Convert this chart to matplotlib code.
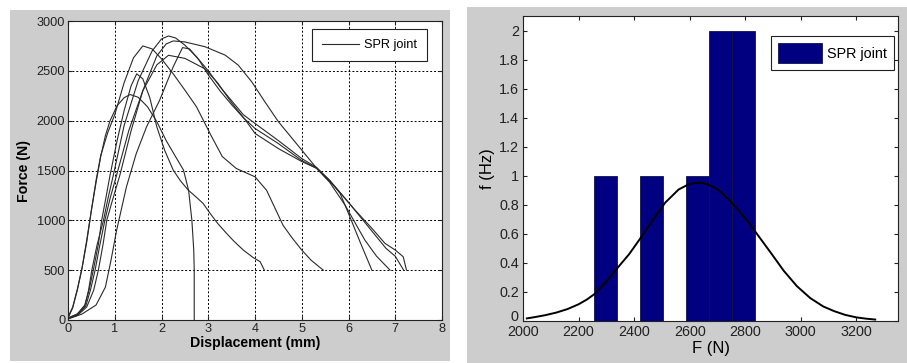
import matplotlib
matplotlib.use("Agg")
import matplotlib.pyplot as plt
from matplotlib.patches import Rectangle
from matplotlib.ticker import FuncFormatter
from matplotlib.transforms import ScaledTranslation

plt.rcParams['font.family'] = ['Liberation Sans', 'DejaVu Sans']

# ---------------- data: force-displacement curves (mm, N) ----------------
curve_a_x = [0, 0.1, 0.2, 0.3, 0.4, 0.5, 0.6, 0.7, 0.8, 0.9, 1.05, 1.2, 1.33, 1.5, 1.7, 1.9, 2.1, 2.3, 2.47, 2.58, 2.65, 2.69, 2.70, 2.70]
curve_a_y = [20, 120, 300, 520, 780, 1100, 1380, 1640, 1850, 2000, 2150, 2230, 2262, 2235, 2140, 1990, 1800, 1640, 1505, 1300, 1000, 700, 500, 0]

curve_b_x = [0, 0.2, 0.36, 0.45, 0.55, 0.65, 0.72, 0.82, 0.9, 1.05, 1.2, 1.35, 1.47, 1.6, 1.75, 1.9, 2.07, 2.25, 2.4, 2.57, 2.75, 2.89, 3.04, 3.2, 3.39, 3.55, 3.75, 3.95, 4.11, 4.2]
curve_b_y = [20, 60, 150, 300, 520, 760, 1000, 1250, 1454, 1800, 2100, 2350, 2470, 2420, 2230, 1938, 1700, 1505, 1400, 1304, 1230, 1170, 1070, 970, 870, 790, 702, 630, 585, 500]

curve_c_x = [0, 0.1, 0.2, 0.3, 0.4, 0.5, 0.6, 0.7, 0.85, 1.0, 1.2, 1.4, 1.6, 1.8, 2.0, 2.25, 2.5, 2.75, 3.05, 3.3, 3.6, 4.0, 4.25, 4.45, 4.6, 4.8, 5.0, 5.2, 5.46]
curve_c_y = [30, 130, 310, 520, 800, 1100, 1400, 1650, 1880, 2060, 2380, 2630, 2750, 2720, 2620, 2470, 2307, 2138, 1860, 1640, 1520, 1437, 1300, 1100, 950, 820, 702, 600, 500]

curve_d_x = [0, 0.2, 0.38, 0.48, 0.58, 0.68, 0.79, 0.9, 1.04, 1.3, 1.6, 1.9, 2.15, 2.5, 2.93, 3.2, 3.5, 3.79, 4.0, 4.5, 5.0, 5.32, 5.6, 5.82, 6.0, 6.25, 6.5]
curve_d_y = [15, 50, 140, 300, 501, 750, 1003, 1220, 1454, 1900, 2300, 2560, 2656, 2625, 2520, 2380, 2180, 2010, 1872, 1720, 1590, 1522, 1400, 1270, 1069, 780, 500]

curve_e_x = [0, 0.2, 0.36, 0.44, 0.51, 0.62, 0.76, 0.86, 0.97, 1.2, 1.5, 1.8, 2.0, 2.15, 2.3, 2.5, 2.75, 3.0, 3.25, 3.5, 3.75, 4.0, 4.5, 5.0, 5.32, 5.6, 6.0, 6.4, 6.8, 7.0, 7.18]
curve_e_y = [20, 60, 140, 300, 501, 750, 1003, 1230, 1454, 1950, 2400, 2700, 2820, 2850, 2830, 2758, 2640, 2500, 2340, 2200, 2060, 1972, 1800, 1620, 1530, 1400, 1180, 950, 720, 640, 500]

curve_f_x = [0, 0.2, 0.4, 0.55, 0.65, 0.75, 0.83, 0.95, 1.11, 1.35, 1.6, 1.9, 2.1, 2.25, 2.5, 2.93, 3.36, 3.64, 3.93, 4.21, 4.5, 5.0, 5.35, 5.71, 6.14, 6.5, 6.78, 7.0, 7.17, 7.24]
curve_f_y = [15, 45, 130, 300, 501, 760, 1003, 1200, 1454, 1900, 2300, 2650, 2770, 2800, 2790, 2742, 2658, 2558, 2390, 2190, 1990, 1705, 1505, 1337, 1103, 920, 769, 702, 635, 501]

curve_g_x = [0, 0.3, 0.6, 0.8, 0.92, 1.04, 1.25, 1.46, 1.68, 1.96, 2.25, 2.45, 2.6, 2.8, 3.0, 3.25, 3.5, 3.75, 4.0, 4.5, 5.0, 5.32, 5.6, 5.93, 6.35, 6.6, 6.89]
curve_g_y = [10, 60, 150, 330, 600, 900, 1336, 1670, 1938, 2205, 2540, 2733, 2720, 2610, 2460, 2300, 2160, 2030, 1922, 1770, 1600, 1522, 1380, 1150, 802, 640, 500]

curves = [(curve_a_x, curve_a_y), (curve_b_x, curve_b_y), (curve_c_x, curve_c_y),
          (curve_d_x, curve_d_y), (curve_e_x, curve_e_y), (curve_f_x, curve_f_y),
          (curve_g_x, curve_g_y)]

# ---------------- data: histogram of peak forces ----------------
bin_centers = [2298, 2381, 2464, 2546, 2629, 2712, 2794]
bin_counts = [1, 0, 1, 0, 1, 2, 2]
bin_width = 82.6

fit_x = [2014, 2040, 2080, 2120, 2160, 2200, 2230, 2257, 2299, 2340, 2382, 2421, 2465, 2512,
         2560, 2590, 2615, 2640, 2666, 2690, 2714, 2761, 2808, 2844, 2892, 2939, 2986, 3034,
         3081, 3120, 3160, 3200, 3235, 3268]
fit_y = [0.018, 0.026, 0.040, 0.058, 0.082, 0.115, 0.148, 0.185, 0.270, 0.365, 0.460, 0.565,
         0.690, 0.815, 0.905, 0.935, 0.950, 0.952, 0.940, 0.918, 0.885, 0.795, 0.690, 0.595,
         0.470, 0.345, 0.240, 0.158, 0.100, 0.068, 0.042, 0.025, 0.016, 0.010]

xticks_left = [0, 1, 2, 3, 4, 5, 6, 7, 8]
yticks_left = [0, 500, 1000, 1500, 2000, 2500, 3000]
xticks_right = [2000, 2200, 2400, 2600, 2800, 3000, 3200]
yticks_right = [0, 0.2, 0.4, 0.6, 0.8, 1.0, 1.2, 1.4, 1.6, 1.8, 2.0]

# ---------------- figure ----------------
W, H = 907, 363
fig = plt.figure(figsize=(W / 100, H / 100), dpi=100)
fig.patch.set_facecolor('white')

gray = '#cdcdcd'
fig.patches.append(Rectangle((10 / W, 1 - 361 / H), 440 / W, 351 / H,
                             transform=fig.transFigure, facecolor=gray,
                             edgecolor='none', zorder=-10))
fig.patches.append(Rectangle((467 / W, 0), 440 / W, 1 - 7 / H,
                             transform=fig.transFigure, facecolor=gray,
                             edgecolor='none', zorder=-10))

# ---------- left panel ----------
ax1 = fig.add_axes([68 / W, 1 - 320 / H, 374 / W, 299 / H])
ax1.set_facecolor('white')
for i, (cx, cy) in enumerate(curves):
    ax1.plot(cx, cy, color='#2a2a2a', lw=0.8,
             label='SPR joint' if i == 0 else None)
ax1.set_xlim(0, 8)
ax1.set_ylim(0, 3000)
ax1.set_xticks(xticks_left)
ax1.set_yticks(yticks_left)
ax1.grid(True, color='black', linestyle=(0, (2, 2)), linewidth=0.7)
ax1.tick_params(direction='in', labelsize=9.2, length=3, top=True, right=True,
                colors='#222222', pad=2)
for s in ax1.spines.values():
    s.set_linewidth(0.8)
    s.set_color('#222222')
ax1.set_xlabel('Displacement (mm)', fontsize=10.2, fontweight='bold', labelpad=1)
ax1.set_ylabel('Force (N)', fontsize=10.2, fontweight='bold', labelpad=4)
leg1 = ax1.legend(loc='upper right', bbox_to_anchor=(427 / W, 1 - 29 / H),
                  bbox_transform=fig.transFigure, borderaxespad=0,
                  fancybox=False, framealpha=1, edgecolor='#222222',
                  fontsize=9.2, handlelength=2.9, handletextpad=0.35,
                  borderpad=0.8)
leg1.get_frame().set_linewidth(0.8)

# ---------- right panel ----------
ax2 = fig.add_axes([523 / W, 1 - 321 / H, 375 / W, 305 / H])
ax2.set_facecolor('white')
ax2.bar(bin_centers, bin_counts, width=bin_width, color='#000080',
        edgecolor='#10104a', linewidth=0.6, label='SPR joint', zorder=2)
ax2.plot(fit_x, fit_y, color='black', lw=1.4, zorder=3)
ax2.set_xlim(2000, 3350)
ax2.set_ylim(0, 2.1)
ax2.set_xticks(xticks_right)
ax2.set_yticks(yticks_right)
ax2.yaxis.set_major_formatter(FuncFormatter(lambda v, p: '%g' % round(v, 1)))
ax2.tick_params(direction='in', labelsize=10.4, length=3, top=True, right=True,
                colors='#222222')
ax2.tick_params(axis='y', pad=3)
ax2.tick_params(axis='x', pad=3)
for s in ax2.spines.values():
    s.set_linewidth(0.8)
    s.set_color('#222222')
ax2.set_xlabel('F (N)', fontsize=12, labelpad=1)
ax2.set_ylabel('f (Hz)', fontsize=12, labelpad=3)
leg2 = ax2.legend(loc='upper right', bbox_to_anchor=(894 / W, 1 - 36 / H),
                  bbox_transform=fig.transFigure, borderaxespad=0,
                  fancybox=False, framealpha=1, edgecolor='#222222',
                  fontsize=10.4, handlelength=3.0, handleheight=1.7,
                  handletextpad=0.35, borderpad=0.5)
leg2.get_frame().set_linewidth(0.8)

# lift the "0" y tick label slightly so it clears the "2000" x tick label
fig.canvas.draw()
zero_lbl = ax2.get_yticklabels()[0]
zero_lbl.set_transform(zero_lbl.get_transform() +
                       ScaledTranslation(0, 4 / 72, fig.dpi_scale_trans))

fig.savefig('out.png', dpi=100, facecolor='white')
